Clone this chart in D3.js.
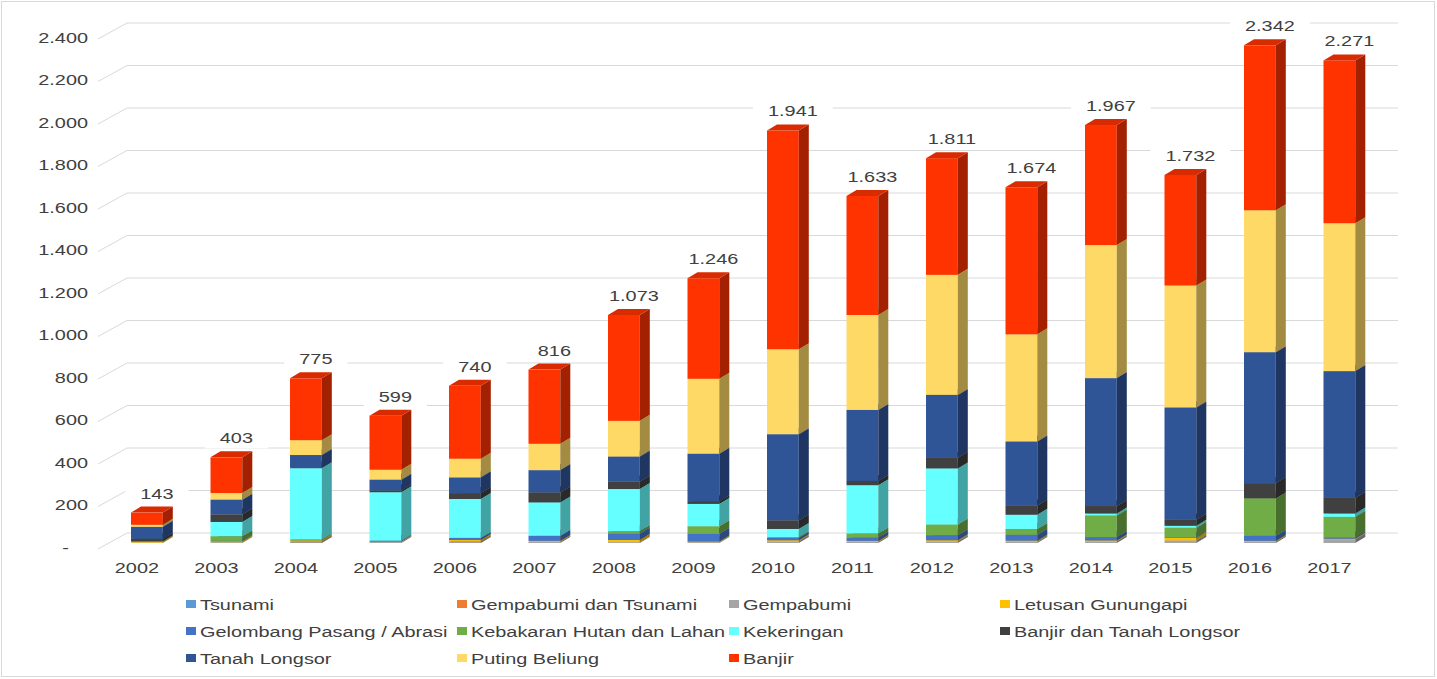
<!DOCTYPE html>
<html>
<head>
<meta charset="utf-8">
<script src="https://cdn.jsdelivr.net/npm/d3@7/dist/d3.min.js"></script>
<style>
  body { margin: 0; background: #fff; }
  text { font-family: "Liberation Sans", Arial, sans-serif; }
</style>
</head>
<body>
<div id="chart"></div>
<script>
// categories
const years = ["2002","2003","2004","2005","2006","2007","2008","2009","2010","2011","2012","2013","2014","2015","2016","2017"];

// series, bottom of the stack first
const seriesNames = ["Tsunami","Gempabumi dan Tsunami","Gempabumi","Letusan Gunungapi","Gelombang Pasang / Abrasi","Kebakaran Hutan dan Lahan","Kekeringan","Banjir dan Tanah Longsor","Tanah Longsor","Puting Beliung","Banjir"];
const seriesColors = ["#5b9bd5","#ed7d31","#a5a5a5","#ffc000","#4472c4","#70ad47","#66ffff","#404040","#2f5597","#ffd966","#ff3300"];

const tsunami        = [0,0,1,0,0,0,0,0,0,0,0,0,0,0,0,0];
const gempaTsunami   = [0,0,1,0,1,0,0,0,0,0,0,0,0,0,0,0];
const gempabumi      = [2,4,6,5,7,6,4,4,8,6,8,6,8,12,6,18];
const letusan        = [4,4,4,2,6,4,10,3,5,4,5,5,4,12,4,2];
const gelombang      = [0,2,0,4,10,24,31,36,11,16,24,28,16,2,24,6];
const kebakaran      = [2,22,5,0,0,0,11,36,3,19,50,27,102,46,176,97];
const kekeringan     = [0,67,335,228,183,157,198,105,39,227,264,67,9,9,0,16];
const banjirLongsor  = [12,36,2,9,28,47,35,13,41,20,50,44,35,30,72,74];
const tanahLongsor   = [56,69,60,50,74,105,118,223,405,334,296,301,602,527,616,596];
const putingBeliung  = [10,31,70,47,88,124,168,353,400,447,565,504,626,574,668,696];
const banjir         = [57,168,291,254,343,349,498,473,1029,560,549,692,565,520,776,766];

const yTicks = [0,200,400,600,800,1000,1200,1400,1600,1800,2000,2200,2400];

const seriesValues = [tsunami,gempaTsunami,gempabumi,letusan,gelombang,kebakaran,kekeringan,banjirLongsor,tanahLongsor,putingBeliung,banjir];

const width = 1437, height = 679;
const sx = 1.42;          // horizontal stretch of the text
const depth = {x: 10, y: -6};

const loc = d3.formatLocale({decimal: ",", thousands: ".", grouping: [3], currency: ["", ""]});
const fmt = loc.format(",d");

const rows = years.map((yr, i) => {
  const r = {year: yr};
  seriesNames.forEach((s, k) => r[s] = seriesValues[k][i]);
  return r;
});
const stacked = d3.stack().keys(seriesNames)(rows);
const totals = rows.map((r, i) => d3.sum(seriesValues, v => v[i]));

const svg = d3.select("#chart").append("svg")
  .attr("width", width)
  .attr("height", height);

svg.append("rect")
  .attr("x", 1.5).attr("y", 1.5)
  .attr("width", width - 4).attr("height", height - 4)
  .attr("fill", "#fff")
  .attr("stroke", "#d9d9d9");

const x = d3.scaleBand()
  .domain(years)
  .range([107.15, 107.15 + 16 * 79.5])
  .paddingInner(0.6)
  .paddingOuter(0.3);

const y = d3.scaleLinear()
  .domain([0, 2400])
  .range([543, 33]);

// gridlines: side wall slant + back wall
svg.append("g").selectAll("path")
  .data(yTicks)
  .enter().append("path")
  .attr("d", v => {
    const yb = y(v) - 10;
    return "M98," + (yb + 16) + "L127," + yb + "L1398," + yb;
  })
  .attr("fill", "none")
  .attr("stroke", "#d9d9d9")
  .attr("stroke-width", 1);

// y axis labels
const yAxis = d3.axisLeft(y)
  .tickValues(yTicks)
  .tickSize(0)
  .tickPadding(0)
  .tickFormat(v => v === 0 ? "-" : fmt(v));

const gy = svg.append("g")
  .attr("transform", "translate(88,5)")
  .call(yAxis);
gy.select(".domain").remove();
gy.selectAll("text")
  .attr("x", 0)
  .attr("transform", d => d === 0 ? "translate(-19,0) scale(" + sx + ",1)" : "scale(" + sx + ",1)")
  .style("font-size", "14px")
  .style("font-family", "'Liberation Sans', Arial, sans-serif")
  .attr("fill", "#404040");

// x axis labels
const xAxis = d3.axisBottom(x).tickSize(0).tickPadding(0);
const gx = svg.append("g")
  .attr("transform", "translate(-10,568)")
  .call(xAxis);
gx.select(".domain").remove();
gx.selectAll("text")
  .attr("y", 0)
  .attr("dy", "0.35em")
  .attr("transform", "scale(" + sx + ",1)")
  .style("font-size", "14px")
  .style("font-family", "'Liberation Sans', Arial, sans-serif")
  .attr("fill", "#404040");
// keep the scaled text centred on its tick
gx.selectAll(".tick text").attr("transform", "scale(" + sx + ",1)");

// 3D stacked bars
const bw = x.bandwidth();
years.forEach((yr, i) => {
  const g = svg.append("g").attr("class", "bar");
  const x0 = x(yr);
  stacked.forEach((layer, k) => {
    const v0 = layer[i][0], v1 = layer[i][1];
    if (v1 - v0 <= 0) return;
    const col = d3.color(seriesColors[k]);
    const yTop = y(v1), yBot = y(v0);
    g.append("rect")
      .attr("x", x0).attr("y", yTop)
      .attr("width", bw).attr("height", yBot - yTop)
      .attr("fill", col.formatHex());
    g.append("path")
      .attr("d", "M" + (x0 + bw) + "," + yBot +
                 "L" + (x0 + bw) + "," + yTop +
                 "L" + (x0 + bw + depth.x) + "," + (yTop + depth.y) +
                 "L" + (x0 + bw + depth.x) + "," + (yBot + depth.y) + "Z")
      .attr("fill", col.darker(1.25).formatHex());
    g.append("path")
      .attr("d", "M" + x0 + "," + yTop +
                 "L" + (x0 + depth.x) + "," + (yTop + depth.y) +
                 "L" + (x0 + bw + depth.x) + "," + (yTop + depth.y) +
                 "L" + (x0 + bw) + "," + yTop + "Z")
      .attr("fill", col.darker(0.45).formatHex());
  });
});

// total labels
years.forEach((yr, i) => {
  const lg = svg.append("g")
    .attr("transform", "translate(" + (x(yr) + bw / 2 + 10) + "," + (y(totals[i]) - 19) + ")");
  const bg = lg.append("rect").attr("fill", "#fff");
  const t = lg.append("text")
    .attr("text-anchor", "middle")
    .attr("dy", "0.35em")
    .attr("transform", "scale(" + sx + ",1)")
    .style("font-size", "14px")
    .attr("fill", "#404040")
    .text(fmt(totals[i]));
  const w = t.node().getComputedTextLength() * sx + 30;
  bg.attr("x", -w / 2).attr("y", -10).attr("width", w).attr("height", 20);
});

// legend
const legendCols = [186, 457, 729, 1000];
const legendRows = [605, 632, 659];
const legend = svg.append("g").selectAll("g")
  .data(seriesNames)
  .enter().append("g")
  .attr("transform", (d, i) => "translate(" + legendCols[i % 4] + "," + legendRows[Math.floor(i / 4)] + ")");
legend.append("rect")
  .attr("x", 0).attr("y", -5)
  .attr("width", 10).attr("height", 8)
  .attr("fill", (d, i) => seriesColors[i]);
legend.append("text")
  .attr("x", 0)
  .attr("dy", "0.35em")
  .attr("transform", "translate(14,0) scale(" + sx + ",1)")
  .style("font-size", "14px")
  .attr("fill", "#404040")
  .text(d => d);
</script>
</body>
</html>
